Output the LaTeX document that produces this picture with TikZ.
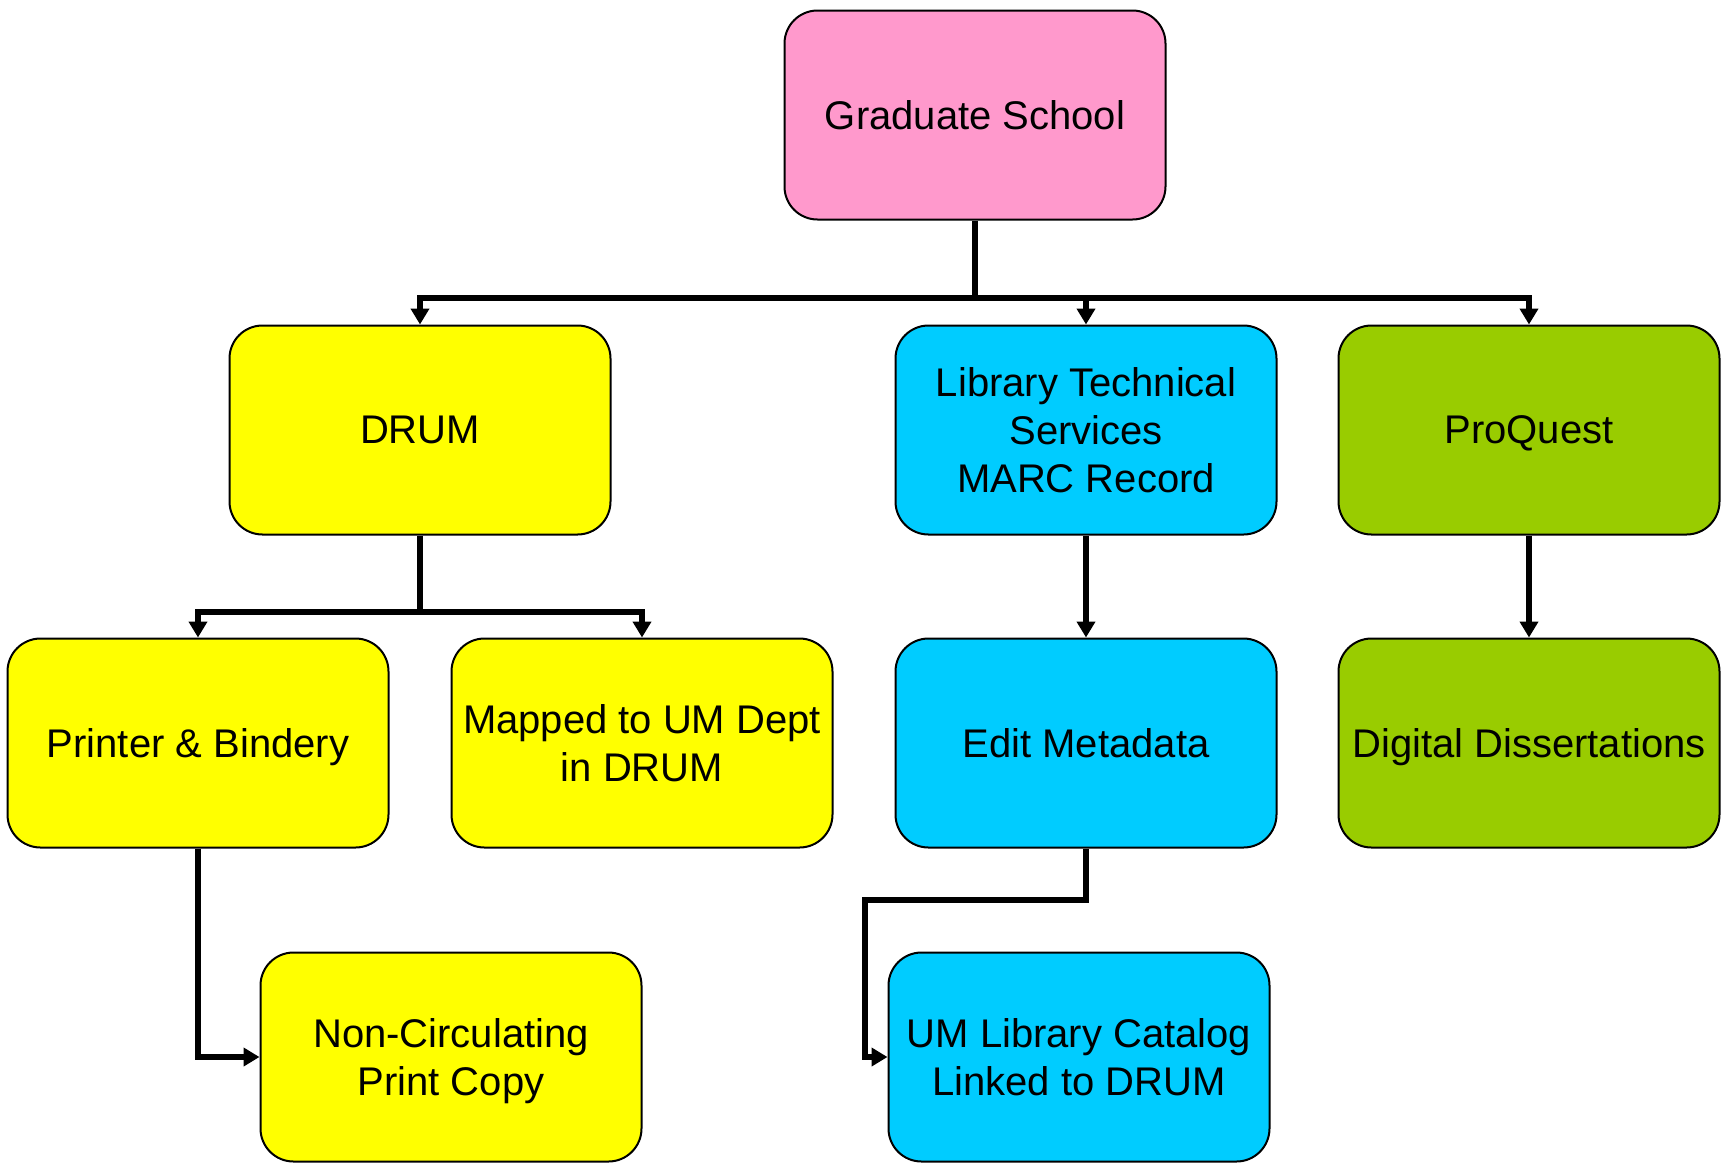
\documentclass[tikz,border=0pt]{standalone}
\usepackage{fontspec}
\setmainfont{Liberation Sans}
\usetikzlibrary{arrows.meta}
\definecolor{gpink}{HTML}{FF99CC}
\definecolor{gyellow}{HTML}{FFFF00}
\definecolor{gcyan}{HTML}{00CCFF}
\definecolor{ggreen}{HTML}{99CC00}
\tikzset{
  box/.style={draw=black, line width=1pt, rounded corners=16.5pt,
    minimum width=190.5pt, minimum height=104.5pt, inner sep=0pt,
    align=center, text depth=0pt, font=\fontsize{20pt}{24pt}\selectfont},
  link/.style={draw=black, line width=2.8pt},
  conn/.style={link, -{Triangle[width=9pt,length=8pt]}}
}
\begin{document}
\begin{tikzpicture}[x=0.5pt,y=-0.5pt]
\useasboundingbox (0,0) rectangle (1725,1164);
\node[box, fill=gpink]   (grad)    at (975,115)  {Graduate School};
\node[box, fill=gyellow] (drum)    at (420,430)  {DRUM};
\node[box, fill=gcyan]   (lib)     at (1086,430) {Library Technical\\Services\\MARC Record};
\node[box, fill=ggreen]  (pq)      at (1529,430) {ProQuest};
\node[box, fill=gyellow] (printer) at (198,743)  {Printer \& Bindery};
\node[box, fill=gyellow] (mapped)  at (642,743)  {Mapped to UM Dept\\in DRUM};
\node[box, fill=gcyan]   (edit)    at (1086,743) {Edit Metadata};
\node[box, fill=ggreen]  (digital) at (1529,743) {Digital Dissertations};
\node[box, fill=gyellow] (noncirc) at (451,1057) {Non-Circulating\\Print Copy};
\node[box, fill=gcyan]   (umlib)   at (1079,1057) {UM Library Catalog\\Linked to DRUM};
\coordinate (j1) at (975,298);
\coordinate (j2) at (420,612);
\coordinate (c1) at (865,900);
\draw[link] (grad.south) -- (j1);
\draw[conn] (j1) -| (drum.north);
\draw[conn] (j1) -| (lib.north);
\draw[conn] (j1) -| (pq.north);
\draw[link] (drum.south) -- (j2);
\draw[conn] (j2) -| (printer.north);
\draw[conn] (j2) -| (mapped.north);
\draw[conn] (lib.south) -- (edit.north);
\draw[conn] (pq.south) -- (digital.north);
\draw[conn] (printer.south) |- (noncirc.west);
\draw[conn] (edit.south) |- (c1) |- (umlib.west);
\end{tikzpicture}
\end{document}
